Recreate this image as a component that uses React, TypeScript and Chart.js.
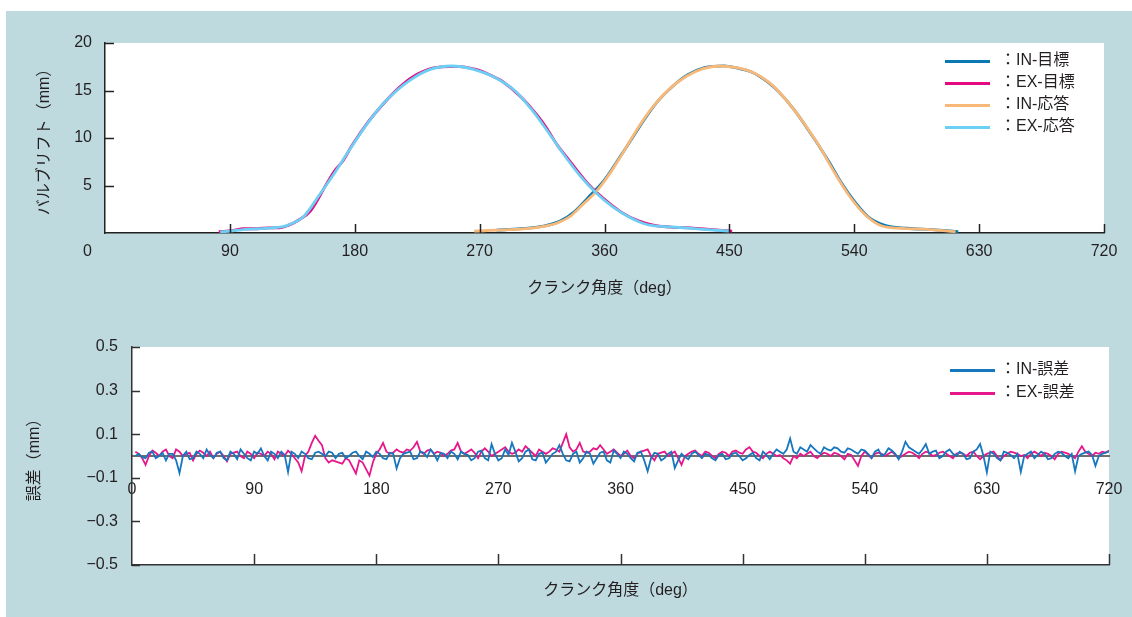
import React, { useEffect, useRef } from 'react';
import { Chart, registerables } from 'chart.js';

Chart.register(...registerables);

const FONT = "'Liberation Sans', 'Noto Sans CJK JP', sans-serif";
const TXT = '#231f20';
const BG = '#bedadf';

// ---------- top chart: valve lift (mm) vs crank angle (deg) ----------
const EX_RESP_DEG = [83, 90, 101, 116, 128, 133, 143, 155, 164, 176, 188, 198, 205, 220, 234, 250, 265, 282, 296, 308, 320, 330, 342, 354, 366, 378, 388, 395, 414, 431, 450];
const EX_RESP = [0.1, 0.2, 0.39, 0.49, 0.66, 0.9, 1.7, 4.1, 6.0, 8.7, 11.3, 13.2, 14.3, 16.1, 17.2, 17.58, 17.25, 16.3, 14.9, 12.9, 10.5, 8.4, 6.1, 4.2, 2.75, 1.65, 1.0, 0.77, 0.58, 0.39, 0.2];

const EX_TGT_DEG = [82, 92, 100, 110, 118, 126, 132, 140, 148, 160, 166, 171, 178, 190, 200, 212, 222, 236, 252, 268, 278, 286, 300, 312, 318, 326, 334, 348, 362, 372, 384, 396, 410, 422, 438, 452];
const EX_TGT = [0.15, 0.25, 0.45, 0.45, 0.55, 0.55, 0.8, 1.4, 2.3, 5.25, 6.65, 7.5, 9.2, 11.75, 13.5, 15.3, 16.45, 17.35, 17.55, 17.2, 16.6, 16.0, 14.3, 12.3, 11.1, 9.25, 7.75, 5.2, 3.3, 2.2, 1.3, 0.8, 0.6, 0.55, 0.35, 0.2];

const IN_RESP_DEG = [266, 287, 306, 318, 325, 335, 344, 354, 364, 371, 378, 383, 395, 407, 419, 431, 443, 455, 467, 479, 491, 503, 515, 524, 536, 548, 560, 575, 592, 613];
const IN_RESP = [0.2, 0.32, 0.49, 0.75, 1.0, 1.72, 2.95, 4.35, 6.3, 7.9, 9.6, 10.8, 13.3, 15.2, 16.5, 17.3, 17.58, 17.4, 16.9, 15.8, 14.0, 11.7, 9.1, 6.8, 4.0, 1.9, 0.74, 0.49, 0.39, 0.14];

const IN_TGT_DEG = [282, 300, 316, 328, 338, 348, 360, 372, 380, 388, 398, 410, 420, 432, 446, 456, 466, 478, 486, 497, 508, 516, 522, 530, 540, 550, 562, 578, 596, 615];
const IN_TGT = [0.3, 0.45, 0.72, 1.25, 2.2, 3.7, 5.6, 8.2, 10.0, 11.8, 13.8, 15.55, 16.65, 17.4, 17.6, 17.35, 16.95, 15.85, 14.8, 12.9, 10.6, 8.85, 7.45, 5.45, 3.35, 1.7, 0.8, 0.5, 0.35, 0.15];

const TOP_LEGEND = ['IN-目標', 'EX-目標', 'IN-応答', 'EX-応答'];

// ---------- bottom chart: error (mm) vs crank angle (deg), sampled every 2.5 deg ----------
const ERR_DEG = Array.from({ length: 288 }, (_, i) => 2.5 + i * 2.5);
const IN_ERR = [
  0.0, 0.01, -0.005, -0.01, 0.015, 0.02, -0.01, 0.0, 0.015, -0.02, 0.01, 0.01, -0.02, -0.078, 0.0, 0.02, -0.015, -0.01, 0.02, 0.01, -0.01, 0.03, 0.005, -0.01,
  0.015, 0.02, -0.01, -0.02, 0.02, 0.01, -0.015, 0.03, 0.01, -0.01, -0.02, 0.02, 0.01, 0.035, 0.0, -0.02, 0.02, 0.01, -0.01, 0.02, 0.005, -0.073, 0.02, 0.01,
  -0.01, 0.02, 0.01, -0.01, -0.015, 0.015, 0.02, 0.01, 0.0, 0.02, 0.015, -0.01, 0.01, 0.015, -0.01, 0.0, 0.015, 0.02, 0.0, -0.015, 0.02, 0.01, -0.005, 0.02,
  0.01, -0.01, -0.015, 0.015, 0.01, -0.057, -0.01, 0.01, 0.015, 0.02, -0.015, -0.01, 0.02, 0.015, -0.005, 0.03, 0.01, -0.02, 0.015, 0.01, -0.01, 0.02, 0.01, -0.015,
  0.02, 0.01, 0.005, -0.02, -0.01, 0.02, 0.025, -0.01, -0.02, 0.055, 0.01, -0.02, -0.01, 0.03, 0.005, 0.06, 0.02, -0.025, -0.01, 0.02, 0.03, -0.015, -0.02, 0.01,
  0.015, -0.03, -0.01, 0.01, 0.02, 0.05, 0.01, -0.02, -0.025, 0.01, 0.02, -0.03, -0.01, 0.02, 0.01, -0.035, -0.01, 0.015, 0.02, -0.02, -0.03, 0.025, 0.01, -0.01,
  0.02, 0.01, -0.01, -0.025, 0.015, 0.02, -0.02, -0.07, -0.01, 0.015, 0.01, -0.02, -0.01, 0.01, 0.02, -0.055, -0.02, 0.01, -0.005, -0.015, 0.01, 0.02, 0.005, -0.01,
  0.01, 0.005, -0.01, -0.02, 0.005, 0.01, -0.015, -0.01, 0.01, 0.015, 0.0, -0.02, -0.01, 0.005, 0.015, -0.01, -0.02, 0.02, 0.005, -0.015, 0.01, 0.03, 0.02, 0.01,
  0.03, 0.08, 0.02, 0.01, 0.04, 0.03, 0.02, 0.05, 0.035, 0.02, 0.01, 0.04, 0.03, 0.025, 0.04, 0.035, 0.02, 0.015, 0.035, 0.03, 0.02, 0.01, 0.03, 0.025,
  0.01, -0.01, 0.02, 0.03, 0.0, 0.01, 0.035, 0.025, 0.01, -0.015, 0.02, 0.065, 0.04, 0.03, 0.02, 0.01, 0.03, 0.055, 0.01, 0.02, 0.025, -0.01, 0.0, 0.02,
  0.03, 0.01, 0.0, 0.02, 0.01, -0.015, -0.01, 0.02, 0.03, 0.055, 0.0, -0.075, 0.02, 0.01, -0.01, -0.02, 0.02, 0.015, 0.005, -0.01, 0.01, -0.073, 0.0, 0.01,
  0.02, -0.01, 0.005, 0.02, 0.01, -0.015, -0.01, 0.01, 0.02, 0.015, 0.0, -0.01, 0.01, -0.07, 0.0, 0.01, 0.015, 0.02, 0.005, -0.045, 0.0, 0.01, 0.015, 0.02,
];
const EX_ERR = [
  0.02, 0.01, -0.01, -0.04, 0.0, 0.025, 0.015, 0.0, 0.02, 0.03, 0.0, -0.01, 0.03, 0.02, 0.0, 0.01, 0.015, -0.02, 0.01, 0.025, 0.015, 0.0, 0.02, -0.01,
  0.01, 0.02, 0.0, -0.025, 0.01, 0.015, 0.02, 0.0, -0.01, 0.02, 0.01, -0.01, 0.015, 0.01, 0.0, 0.02, 0.01, -0.015, 0.02, 0.01, 0.0, 0.025, 0.01, -0.01,
  -0.03, -0.07, 0.0, 0.02, 0.06, 0.093, 0.07, 0.05, -0.01, -0.03, -0.02, -0.025, -0.03, -0.035, -0.01, -0.02, -0.05, -0.08, -0.02, -0.03, -0.06, -0.09, -0.03, 0.01,
  0.03, 0.06, 0.02, 0.01, 0.015, 0.03, 0.02, 0.015, 0.03, 0.025, 0.04, 0.065, 0.02, 0.01, 0.025, 0.03, 0.01, 0.02, 0.015, 0.0, 0.01, 0.025, 0.03, 0.06,
  0.02, 0.01, 0.02, 0.03, 0.015, -0.01, 0.02, 0.035, 0.02, 0.0, 0.01, 0.02, 0.03, 0.04, 0.02, 0.01, 0.015, 0.03, 0.02, 0.045, 0.03, 0.015, 0.0, 0.03,
  0.02, 0.01, 0.02, 0.035, 0.03, 0.02, 0.06, 0.1, 0.04, 0.02, 0.03, 0.06, 0.02, 0.015, 0.02, 0.035, 0.03, 0.05, 0.03, 0.01, 0.02, 0.03, 0.015, 0.0,
  0.01, 0.025, 0.0, -0.01, 0.01, 0.02, 0.025, 0.03, 0.0, -0.02, 0.01, 0.015, 0.02, 0.0, 0.01, 0.02, -0.01, -0.04, 0.0, 0.01, 0.02, 0.025, 0.01, 0.0,
  0.02, 0.015, 0.0, -0.01, 0.01, 0.02, 0.015, 0.0, 0.02, 0.025, 0.015, 0.01, 0.03, 0.04, 0.02, 0.015, 0.0, -0.01, 0.01, 0.02, 0.01, 0.0, 0.005, -0.01,
  -0.02, -0.035, 0.0, -0.01, 0.01, 0.0, 0.01, 0.02, 0.0, -0.01, 0.005, 0.015, 0.01, 0.0, 0.015, 0.01, 0.0, -0.015, 0.01, 0.005, -0.02, -0.045, 0.0, 0.02,
  0.005, -0.01, 0.01, 0.015, 0.01, 0.0, 0.01, 0.02, 0.005, -0.01, 0.0, 0.01, 0.02, 0.015, 0.005, -0.01, 0.01, 0.02, 0.015, 0.0, 0.005, 0.015, 0.02, 0.01,
  0.0, -0.01, 0.01, 0.015, 0.01, 0.0, 0.015, 0.02, 0.0, -0.015, 0.0, 0.01, 0.015, 0.02, 0.0, -0.02, 0.0, 0.01, 0.02, 0.015, 0.01, 0.0, 0.005, -0.01,
  0.01, 0.02, 0.01, 0.0, 0.015, 0.01, 0.0, -0.015, 0.01, 0.02, 0.015, 0.01, 0.0, -0.01, 0.02, 0.045, 0.02, 0.01, 0.0, 0.015, 0.01, 0.02, 0.015, 0.025,
];
const BOTTOM_LEGEND = ['IN-誤差', 'EX-誤差'];

const X_TITLE = 'クランク角度（deg）';
const TOP_Y_TITLE = 'バルブリフト（mm）';
const BOT_Y_TITLE = '誤差（mm）';

const pts = (xs: number[], ys: number[]) => ys.map((y, i) => ({ x: xs[i], y }));

// ---------- plugins ----------
const plotBg = {
  id: 'plotBg',
  beforeDraw(chart: any) {
    const { ctx, chartArea: a } = chart;
    ctx.save();
    ctx.fillStyle = '#ffffff';
    ctx.fillRect(a.left, a.top, a.right - a.left, a.bottom - a.top);
    ctx.restore();
  },
};

const innerTicks = {
  id: 'innerTicks',
  afterDraw(chart: any, _args: any, o: any) {
    const { ctx, chartArea: a } = chart;
    const xs = chart.scales[o.xScale];
    const ys = chart.scales.y;
    ctx.save();
    ctx.strokeStyle = o.color;
    ctx.lineWidth = o.width;
    xs.ticks.forEach((t: any) => {
      if (t.value === 0) return;
      const px = Math.round(xs.getPixelForValue(t.value)) + 0.5;
      ctx.beginPath();
      ctx.moveTo(px, a.bottom);
      ctx.lineTo(px, a.bottom - o.xLen);
      ctx.stroke();
    });
    ys.ticks.forEach((t: any) => {
      if (o.skipY0 && Math.abs(t.value) < 1e-9) return;
      const py = Math.round(ys.getPixelForValue(t.value)) + 0.5;
      ctx.beginPath();
      ctx.moveTo(a.left, py);
      ctx.lineTo(a.left + o.yLen, py);
      ctx.stroke();
    });
    ctx.restore();
  },
};

const boxLegend = {
  id: 'boxLegend',
  afterDraw(chart: any, _args: any, o: any) {
    const { ctx, chartArea: a } = chart;
    ctx.save();
    ctx.font = `16px ${FONT}`;
    ctx.textBaseline = 'middle';
    ctx.textAlign = 'left';
    (o.labels as string[]).forEach((lab, i) => {
      const ds = chart.data.datasets.find((d: any) => d.label === lab);
      const y = Math.round(a.top + o.top + i * o.gap) + 0.5;
      ctx.strokeStyle = ds.borderColor;
      ctx.lineWidth = 3;
      ctx.beginPath();
      ctx.moveTo(a.right + o.x0, y);
      ctx.lineTo(a.right + o.x1, y);
      ctx.stroke();
      ctx.fillStyle = TXT;
      ctx.fillText('：' + lab, a.right + o.tx, y - 1);
    });
    ctx.restore();
  },
};

const originLabel = {
  id: 'originLabel',
  afterDraw(chart: any, _args: any, o: any) {
    if (!o.show) return;
    const { ctx } = chart;
    const ys = chart.scales.y;
    const xs = chart.scales.x;
    ctx.save();
    ctx.font = `16px ${FONT}`;
    ctx.fillStyle = TXT;
    ctx.textAlign = 'right';
    ctx.textBaseline = 'middle';
    ctx.fillText('0', ys.right - o.padX, xs.top + o.padY + 9.6);
    ctx.restore();
  },
};

const tickFont = { family: FONT, size: 16 };
const titleFont = { family: FONT, size: 16 };

export default function App() {
  const topRef = useRef<HTMLCanvasElement | null>(null);
  const botRef = useRef<HTMLCanvasElement | null>(null);

  useEffect(() => {
    Chart.defaults.font.family = FONT;
    Chart.defaults.color = TXT;

    const top = new Chart(topRef.current as HTMLCanvasElement, {
      type: 'line',
      data: {
        datasets: [
          { label: 'EX-応答', data: pts(EX_RESP_DEG, EX_RESP), borderColor: '#6ccff4', borderWidth: 2.8, pointRadius: 0, cubicInterpolationMode: 'monotone', order: 0 },
          { label: 'IN-応答', data: pts(IN_RESP_DEG, IN_RESP), borderColor: '#f8b878', borderWidth: 2.8, pointRadius: 0, cubicInterpolationMode: 'monotone', order: 0 },
          { label: 'EX-目標', data: pts(EX_TGT_DEG, EX_TGT), borderColor: '#e5097f', borderWidth: 2.8, pointRadius: 0, cubicInterpolationMode: 'monotone', order: 1 },
          { label: 'IN-目標', data: pts(IN_TGT_DEG, IN_TGT), borderColor: '#0b78b1', borderWidth: 2.8, pointRadius: 0, cubicInterpolationMode: 'monotone', order: 1 },
        ],
      } as any,
      options: {
        animation: false,
        responsive: false,
        maintainAspectRatio: false,
        layout: { padding: { left: 0, top: 32, right: 28, bottom: 0 } },
        plugins: {
          legend: { display: false },
          tooltip: { enabled: false },
          innerTicks: { xScale: 'x', color: '#222', width: 1.5, xLen: 9, yLen: 9, skipY0: true },
          boxLegend: { labels: TOP_LEGEND, top: 18, gap: 22, x0: -159, x1: -114, tx: -104 },
          originLabel: { show: true, padX: 13, padY: 9 },
        } as any,
        scales: {
          x: {
            type: 'linear',
            min: 0,
            max: 720,
            afterFit: (s: any) => { s.height = 83; },
            ticks: { stepSize: 90, autoSkip: false, maxRotation: 0, padding: 9, font: tickFont, color: TXT, callback: (v: any) => (v === 0 ? '' : String(v)) },
            grid: { drawOnChartArea: false, drawTicks: false },
            border: { display: true, color: '#222', width: 1.5 },
            title: { display: true, text: X_TITLE, font: titleFont, color: TXT, padding: { top: 0, bottom: 18 } },
          },
          y: {
            type: 'linear',
            min: 0,
            max: 20,
            afterFit: (s: any) => { s.width = 99; },
            ticks: { stepSize: 5, padding: 13, font: tickFont, color: TXT, callback: (v: any) => (v === 0 ? '' : String(v)) },
            grid: { drawOnChartArea: false, drawTicks: false },
            border: { display: true, color: '#222', width: 1.5 },
            title: { display: true, text: TOP_Y_TITLE, font: titleFont, color: TXT, padding: { top: 29, bottom: 0 } },
          },
        },
      } as any,
      plugins: [plotBg, innerTicks, boxLegend, originLabel],
    });

    const bot = new Chart(botRef.current as HTMLCanvasElement, {
      type: 'line',
      data: {
        datasets: [
          { label: 'IN-誤差', data: pts(ERR_DEG, IN_ERR), borderColor: '#1677bf', borderWidth: 1.8, pointRadius: 0, tension: 0, order: 0 },
          { label: 'EX-誤差', data: pts(ERR_DEG, EX_ERR), borderColor: '#e6178a', borderWidth: 1.8, pointRadius: 0, tension: 0, order: 1 },
        ],
      } as any,
      options: {
        animation: false,
        responsive: false,
        maintainAspectRatio: false,
        layout: { padding: { left: 0, top: 31, right: 23, bottom: 0 } },
        plugins: {
          legend: { display: false },
          tooltip: { enabled: false },
          innerTicks: { xScale: 'x', color: '#333', width: 1.5, xLen: 11, yLen: 8, skipY0: false },
          boxLegend: { labels: BOTTOM_LEGEND, top: 23, gap: 23, x0: -159, x1: -114, tx: -109 },
          originLabel: { show: false },
        } as any,
        scales: {
          x: {
            type: 'linear',
            position: 'bottom',
            min: 0,
            max: 720,
            afterFit: (s: any) => { s.height = 51; s.paddingLeft = 0; s.paddingRight = 0; },
            ticks: { display: false, stepSize: 90 },
            grid: { drawOnChartArea: false, drawTicks: false },
            border: { display: true, color: '#333', width: 1.5 },
            title: { display: true, text: X_TITLE, font: titleFont, color: TXT, padding: { top: 0, bottom: 16 } },
          },
          x2: {
            type: 'linear',
            axis: 'x',
            position: { y: 0 },
            min: 0,
            max: 720,
            afterFit: (s: any) => { s.paddingLeft = 0; s.paddingRight = 0; s.paddingTop = 0; s.paddingBottom = 0; },
            ticks: { stepSize: 90, autoSkip: false, maxRotation: 0, padding: 24, font: tickFont, color: TXT },
            grid: { drawOnChartArea: false, drawTicks: false },
            border: { display: true, color: '#6f6f6f', width: 2 },
          },
          y: {
            type: 'linear',
            min: -0.5,
            max: 0.5,
            afterFit: (s: any) => { s.width = 126; },
            ticks: {
              stepSize: 0.2,
              padding: 14,
              font: tickFont,
              color: TXT,
              callback: (v: any) => {
                const n = Number(v);
                return n < 0 ? '−' + Math.abs(n).toFixed(1) : n.toFixed(1);
              },
            },
            grid: { drawOnChartArea: false, drawTicks: false },
            border: { display: true, color: '#333', width: 1.5 },
            title: { display: true, text: BOT_Y_TITLE, font: titleFont, color: TXT, padding: { top: 19, bottom: 0 } },
          },
        },
      } as any,
      plugins: [plotBg, innerTicks, boxLegend, originLabel],
    });

    return () => {
      top.destroy();
      bot.destroy();
    };
  }, []);

  return (
    <div style={{ position: 'fixed', left: 0, top: 0, width: 1132, height: 617, background: '#ffffff', overflow: 'hidden' }}>
      <div style={{ position: 'absolute', left: 6, top: 11, width: 1126, height: 606, background: BG }}>
        <canvas ref={topRef} width={1126} height={305} style={{ position: 'absolute', left: 0, top: 0, display: 'block' }} />
        <canvas ref={botRef} width={1126} height={300} style={{ position: 'absolute', left: 0, top: 305, display: 'block' }} />
      </div>
    </div>
  );
}
